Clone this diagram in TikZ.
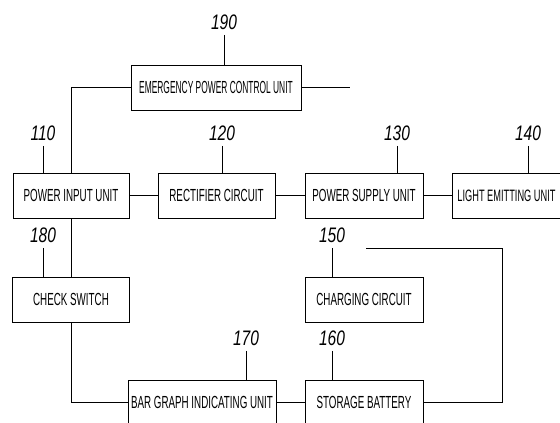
\documentclass[tikz,border=0pt]{standalone}
\usepackage{fontspec}
\newfontfamily\boxfont[FakeStretch=0.56]{Liberation Sans}
\newfontfamily\boxnarrowfont[FakeStretch=0.48]{Liberation Sans}
\newfontfamily\numfont[FakeStretch=0.74]{Liberation Sans Italic}
\usetikzlibrary{positioning}

\begin{document}
\begin{tikzpicture}[x=1pt,y=-1pt,line width=.9pt,
    unit/.style={draw,minimum height=45pt,inner sep=0pt,font=\boxfont\fontsize{17.5}{17.5}\selectfont},
    num/.style={inner sep=5pt,font=\numfont\fontsize{21}{21}\selectfont},
    lead/.style={line width=.6pt}]
  \useasboundingbox (0,0) rectangle (560,423);
  \clip (0,0) rectangle (560,423);
  \node[unit,minimum width=170pt,font=\boxnarrowfont\fontsize{17.5}{17.5}\selectfont] (epcu) at (216,87.5) {EMERGENCY POWER CONTROL UNIT};
  \node[unit,minimum width=116pt] (piu) at (71,195.5) {POWER INPUT UNIT};
  \node[unit,minimum width=117pt] (rect) at (216.5,195.5) {RECTIFIER CIRCUIT};
  \node[unit,minimum width=118pt] (psu) at (364,195.5) {POWER SUPPLY UNIT};
  \node[unit,anchor=west,inner xsep=5pt,text width=120pt,align=flush left,font=\boxfont\fontsize{16.5}{17.5}\selectfont] (light) at (452,195.5) {LIGHT EMITTING UNIT};
  \node[unit,minimum width=117pt] (chk) at (71,299.5) {CHECK SWITCH};
  \node[unit,minimum width=118pt] (chg) at (364,299.5) {CHARGING CIRCUIT};
  \node[unit,minimum width=148pt] (bar) at (202,402.5) {BAR GRAPH INDICATING UNIT};
  \node[unit,minimum width=118pt] (bat) at (364,402.5) {STORAGE BATTERY};
  \coordinate (epout) at (350,87.5);
  \coordinate (cr) at (502,248);
  \coordinate (chgin) at (366,248);
  \draw (epcu.west) -| (piu.north);
  \draw (epcu.east) -- (epout);
  \draw (piu.east) -- (rect.west);
  \draw (rect.east) -- (psu.west);
  \draw (psu.east) -- (light.west);
  \draw (piu.south) -- (chk.north);
  \draw (chk.south) |- (bar.west);
  \draw (bar.east) -- (bat.west);
  \draw (bat.east) -| (cr) -- (chgin);
  \foreach \num/\bx/\px/\py in {190/epcu/224/22,110/piu/43/133,120/rect/222/133,
      130/psu/397/133,140/light/528/133,180/chk/43/235,150/chg/332/235,
      170/bar/246/338,160/bat/332/338} {
    \node[num] (n\num) at (\px,\py) {\num};
    \draw[lead] (n\num.south) -- (n\num.south |- \bx.north);
  }
\end{tikzpicture}
\end{document}
